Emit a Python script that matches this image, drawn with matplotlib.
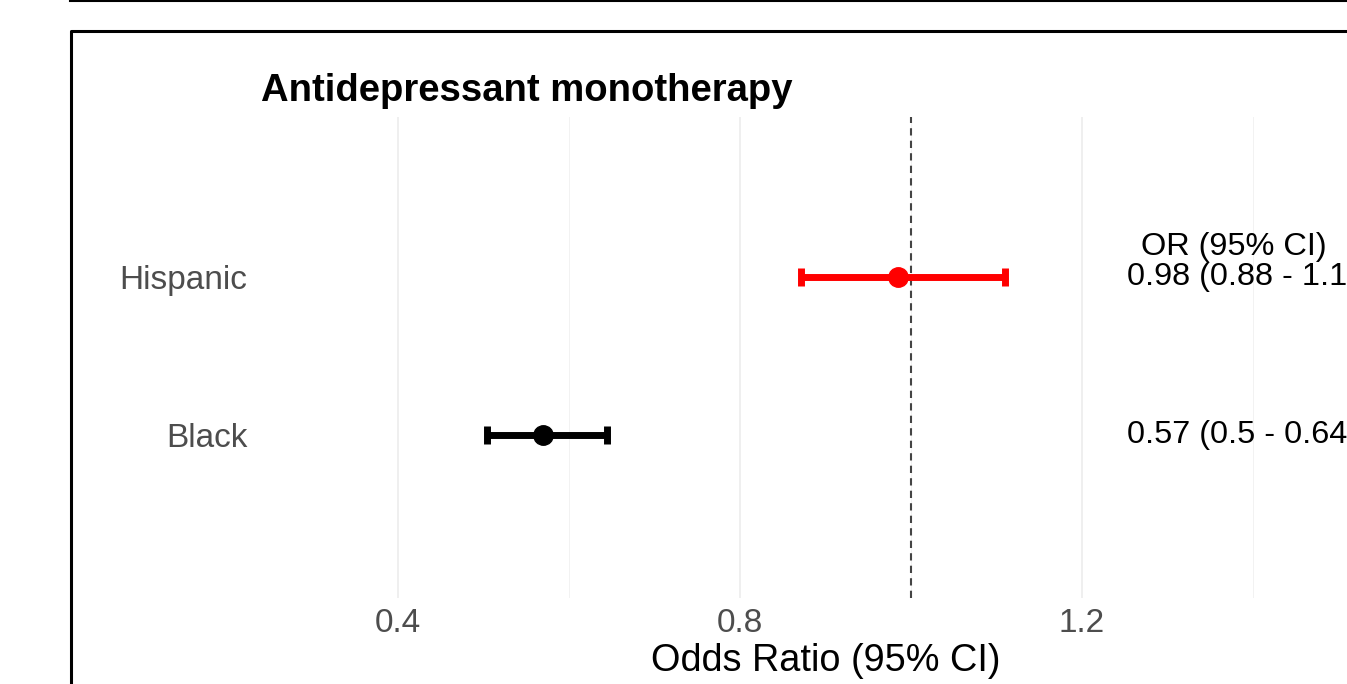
import numpy as np
import matplotlib
matplotlib.use("Agg")
import matplotlib.pyplot as plt
from matplotlib.lines import Line2D

plt.rcParams['font.family'] = ['Liberation Sans', 'DejaVu Sans']

# data
groups = ["Black", "Hispanic"]
odds_ratio = [0.570, 0.985]
ci_low = [0.504, 0.871]
ci_high = [0.644, 1.110]
colors = ["black", "red"]
labels = ["0.57 (0.5 - 0.64)", "0.98 (0.88 - 1.11)"]
major_ticks = [0.4, 0.8, 1.2]
minor_ticks = [0.6, 1.0, 1.4]

W, H = 1347, 684
fig = plt.figure(figsize=(W / 100, H / 100), dpi=100)

# panel geometry in pixels (left/top origin)
x0, x1 = 0.24, 1.56
px_per_unit = 855.0
px_left = 740 - (0.8 - x0) * px_per_unit
px_right = 740 + (x1 - 0.8) * px_per_unit
px_top, px_bottom = 117, 598
ax = fig.add_axes([px_left / W, 1 - px_bottom / H,
                   (px_right - px_left) / W, (px_bottom - px_top) / H])

ax.set_xlim(x0, x1)
ax.set_ylim(-0.03, 3.01)
ypos = np.arange(1, len(groups) + 1)

# grid
for t in major_ticks:
    ax.axvline(t, color="#ebebeb", lw=1.1, zorder=0)
for t in minor_ticks:
    ax.axvline(t, color="#f2f2f2", lw=0.7, zorder=0)

ax.axvline(1.0, color="#444444", lw=1.5, dashes=(3.5, 2.5), zorder=1)

for y, m, lo, hi, c in zip(ypos, odds_ratio, ci_low, ci_high, colors):
    ax.errorbar(m, y, xerr=[[m - lo], [hi - m]], fmt="o", color=c,
                ms=14, lw=5, capsize=6.5, capthick=5, zorder=3)

# text table
for y, s in zip(ypos, labels):
    ax.text(1.2526, y, s, ha="left", va="center", fontsize=23.4,
            color="black", clip_on=False)
ax.text(1.3775, 2.19, "OR (95% CI)", ha="center", va="center",
        fontsize=23.4, color="black", clip_on=False)

ax.set_xticks(major_ticks)
ax.set_xticklabels([f"{t:g}" for t in major_ticks])
ax.set_yticks(ypos)
ax.set_yticklabels(groups)
ax.tick_params(axis="both", length=0, labelsize=24, labelcolor="#4d4d4d")
ax.tick_params(axis="x", pad=7)
ax.tick_params(axis="y", pad=10)
for sp in ax.spines.values():
    sp.set_visible(False)

ax.set_xlabel("Odds Ratio (95% CI)", fontsize=27.3, color="black", labelpad=3)
ax.set_title("Antidepressant monotherapy", loc="left", fontsize=27.5,
             fontweight="bold", pad=11.5)

# surrounding frame lines
fig.add_artist(Line2D([70 / W, 1], [1 - 0.8 / H, 1 - 0.8 / H],
                      transform=fig.transFigure, color="black", lw=1.5))
fig.add_artist(Line2D([71 / W, 71 / W, 1], [0, 1 - 30.5 / H, 1 - 30.5 / H],
                      transform=fig.transFigure, color="black", lw=2.2))

fig.savefig("out.png", dpi=100)
